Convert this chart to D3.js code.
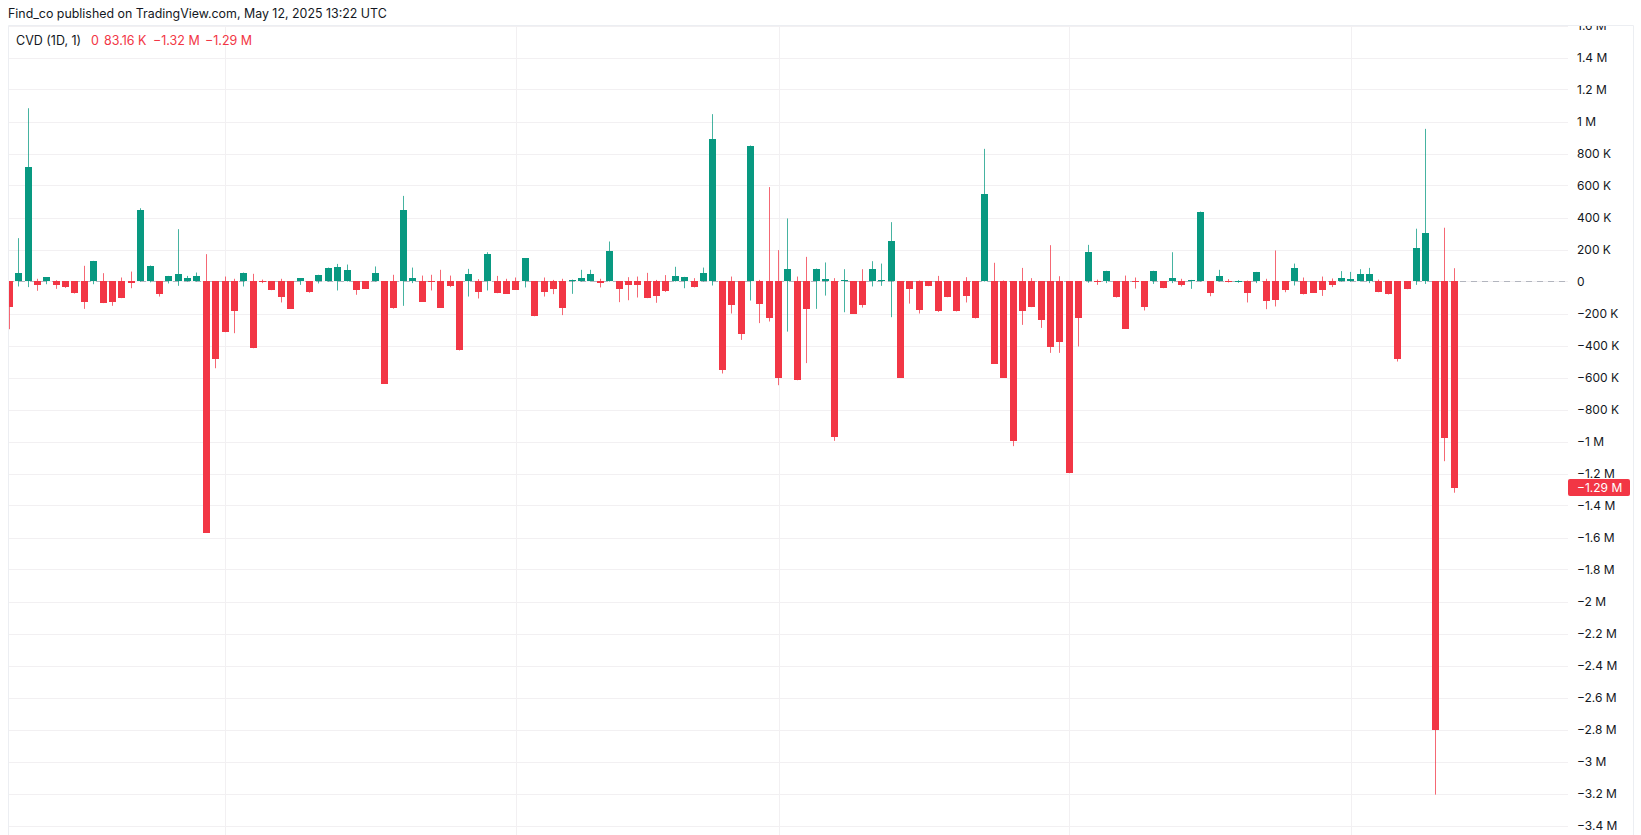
<!DOCTYPE html>
<html><head><meta charset="utf-8">
<script src="https://cdn.jsdelivr.net/npm/d3@7/dist/d3.min.js"></script>
<style>
html,body{margin:0;padding:0;background:#fff;}
svg{display:block;font-family:Inter,"Noto Sans",sans-serif;}
</style></head><body>
<svg id="chart" width="1641" height="835"></svg>
<script>
// ---- data (values in thousands) ----
const firstDay = "2024-12-09";
const lastDay = "2025-05-12";
const opens = 0; // CVD resets to 0 each day
const closes = [-160,56,715,-21,27,-21,-37,-71,-127,129,-135,-131,-104,-10,444,94,-77,35,50,23,35,-1569,-485,-317,-183,56,-417,-4,-54,-96,-169,19,-65,42,87,90,75,-56,-44,52,-640,-163,444,25,-127,-2,-163,-27,-431,46,-65,171,-73,-77,-52,144,-217,-67,-46,-163,12,21,48,-10,192,-50,-21,-21,-104,-90,-60,33,29,-37,52,892,-554,-148,-331,850,-140,-225,-600,77,-617,-173,81,17,-973,12,-200,-148,77,8,252,-600,-50,-181,-29,-187,-98,-187,-90,-231,544,-515,-600,-998,-185,-160,-240,-410,-377,-1198,-227,183,-6,67,-100,-294,-2,-158,67,-40,19,-19,10,433,-69,37,-6,6,-69,60,-121,-115,-54,83,-81,-69,-56,-19,25,17,48,50,-67,-81,-485,-48,208,306,-2800,-975,-1290];
const highs = [0,271,1083,17,27,8,0,0,98,129,52,0,25,62,458,100,0,35,327,35,56,171,0,31,17,56,48,12,0,17,0,19,0,42,87,110,106,0,0,94,0,42,535,87,37,42,73,37,0,79,15,183,35,17,25,144,0,25,10,17,12,73,73,17,250,0,27,31,54,10,40,92,29,21,87,1046,0,31,0,850,10,590,196,394,31,154,81,119,21,77,0,77,127,112,371,0,0,6,0,35,0,0,27,0,829,117,6,0,85,21,0,227,33,0,0,229,12,67,0,37,25,0,67,0,183,17,10,437,0,73,15,8,6,60,17,194,0,112,25,0,31,19,65,60,77,85,12,0,0,0,330,954,0,336,83.16];
const lows = [-298,-31,-35,-58,-17,-46,-40,-75,-171,-17,-135,-152,-104,-42,0,-5,-94,-12,-27,0,0,-1569,-542,-317,-323,-31,-417,-10,-54,-131,-169,-21,-70,-12,0,-56,0,-83,-44,0,-640,-170,-152,-10,-127,-56,-163,-35,-431,-94,-106,-56,-73,-77,-52,-37,-217,-94,-79,-210,-77,0,0,-37,0,-129,-117,-100,-104,-133,-65,0,-42,-37,0,-25,-575,-200,-365,-119,-260,-250,-648,-313,-617,-510,-171,-88,-996,-192,-200,-163,-31,-27,-223,-600,-138,-200,-29,-190,-98,-187,-131,-231,0,-515,-600,-1029,-271,-160,-290,-446,-446,-1198,-406,-8,-21,-10,-100,-294,-44,-181,-15,-42,-10,-31,-46,0,-92,0,-6,-8,-131,-10,-173,-156,-67,-25,-81,-69,-90,-35,0,0,0,-10,-67,-81,-500,-48,-21,-15,-3207,-1123,-1320];
const yTickValues = [1600,1400,1200,1000,800,600,400,200,0,-200,-400,-600,-800,-1000,-1200,-1400,-1600,-1800,-2000,-2200,-2400,-2600,-2800,-3000,-3200,-3400];
const yTickLabels = ["1.6 M","1.4 M","1.2 M","1 M","800 K","600 K","400 K","200 K","0","−200 K","−400 K","−600 K","−800 K","−1 M","−1.2 M","−1.4 M","−1.6 M","−1.8 M","−2 M","−2.2 M","−2.4 M","−2.6 M","−2.8 M","−3 M","−3.2 M","−3.4 M"];
const monthStarts = ["2025-01-01","2025-02-01","2025-03-01","2025-04-01","2025-05-01"];
const headerText = "Find_co published on TradingView.com, May 12, 2025 13:22 UTC";
const legendTitle = "CVD (1D, 1)";
const legendValues = ["0","83.16 K","−1.32 M","−1.29 M"];
const lastValue = -1290;
const lastLabel = "−1.29 M";

// ---- layout ----
const W = 1641, H = 835;
const pane = {left: 8, top: 25, right: 1568, bottom: 835, outer: 1633};
const green = "#089981", red = "#f23645", gridC = "#f2f0f2", textC = "#131722";

const parse = d3.utcParse("%Y-%m-%d");
const dates = d3.utcDay.range(parse(firstDay), d3.utcDay.offset(parse(lastDay), 1));
const data = dates.map((d, i) => ({date: d, open: opens, close: closes[i], high: highs[i], low: lows[i]}));

const x = d3.scaleUtc().domain([parse(firstDay), parse(lastDay)]).range([9.3, 1454]);
const y = d3.scaleLinear().domain([-3400, 1600]).range([825.5, 25.5]);

const svg = d3.select("#chart");
svg.append("defs").append("clipPath").attr("id", "paneClip")
  .append("rect").attr("x", pane.left).attr("y", pane.top).attr("width", pane.right - pane.left).attr("height", pane.bottom - pane.top);
svg.append("defs").append("clipPath").attr("id", "axisClip")
  .append("rect").attr("x", pane.right).attr("y", pane.top + 1).attr("width", pane.outer - pane.right).attr("height", pane.bottom - pane.top);

// header
svg.append("text").attr("x", 8).attr("y", 18).attr("font-size", 12.4).attr("fill", textC).text(headerText);

const g = svg.append("g").attr("clip-path", "url(#paneClip)");

// grid
g.append("g").selectAll("line").data(yTickValues).join("line")
  .attr("x1", pane.left).attr("x2", pane.right)
  .attr("y1", d => Math.round(y(d)) + 0.5).attr("y2", d => Math.round(y(d)) + 0.5)
  .attr("stroke", gridC).attr("stroke-width", 1);
g.append("g").selectAll("line").data(monthStarts.map(parse)).join("line")
  .attr("x1", d => Math.round(x(d)) + 0.5).attr("x2", d => Math.round(x(d)) + 0.5)
  .attr("y1", pane.top).attr("y2", pane.bottom)
  .attr("stroke", gridC).attr("stroke-width", 1);

// zero dashed line
g.append("line").attr("x1", pane.left).attr("x2", pane.right)
  .attr("y1", Math.round(y(0)) + 0.5).attr("y2", Math.round(y(0)) + 0.5)
  .attr("stroke", "#b2b5be").attr("stroke-width", 1).attr("stroke-dasharray", "6 5");

// candles
const c = g.append("g").selectAll("g").data(data).join("g");
c.append("rect")
  .attr("x", d => Math.floor(x(d.date)))
  .attr("width", 1)
  .attr("y", d => y(d.high))
  .attr("height", d => Math.max(1, y(d.low) - y(d.high)))
  .attr("fill", d => d.close >= d.open ? green : red)
  .attr("opacity", 0.75);
c.append("rect")
  .attr("x", d => Math.floor(x(d.date)) - 3)
  .attr("width", 7)
  .attr("y", d => Math.round(y(Math.max(d.open, d.close))))
  .attr("height", d => Math.max(1, Math.round(y(Math.min(d.open, d.close))) - Math.round(y(Math.max(d.open, d.close)))))
  .attr("fill", d => d.close >= d.open ? green : red);

// legend
const legendY = 40.5;
svg.append("text").attr("x", 16).attr("y", legendY).attr("dy", "0.35em").attr("font-size", 12.5).attr("fill", textC).text(legendTitle);
const legendX = [91, 104, 153, 205];
svg.append("g").selectAll("text").data(legendValues).join("text")
  .attr("x", (d, i) => legendX[i]).attr("y", legendY).attr("dy", "0.35em")
  .attr("font-size", 12.5).attr("fill", red).text(d => d);

// right axis
const ax = svg.append("g").attr("clip-path", "url(#axisClip)");
ax.selectAll("text").data(yTickValues).join("text")
  .attr("x", 1577).attr("y", d => y(d)).attr("dy", "0.35em")
  .attr("font-size", 12).attr("fill", textC)
  .text((d, i) => yTickLabels[i]);

// last value label
const ly = y(lastValue);
svg.append("rect").attr("x", pane.right).attr("y", Math.round(ly - 8.5)).attr("width", 62).attr("height", 17).attr("rx", 2).attr("fill", red);
svg.append("text").attr("x", 1577).attr("y", ly).attr("dy", "0.35em").attr("font-size", 12).attr("fill", "#fff").text(lastLabel);

// pane border
svg.append("path")
  .attr("d", `M${pane.left + 0.5},${H} V${pane.top + 0.5} H${pane.outer + 0.5} V${H}`)
  .attr("fill", "none").attr("stroke", "#eceef2").attr("stroke-width", 1);
</script>
</body></html>
